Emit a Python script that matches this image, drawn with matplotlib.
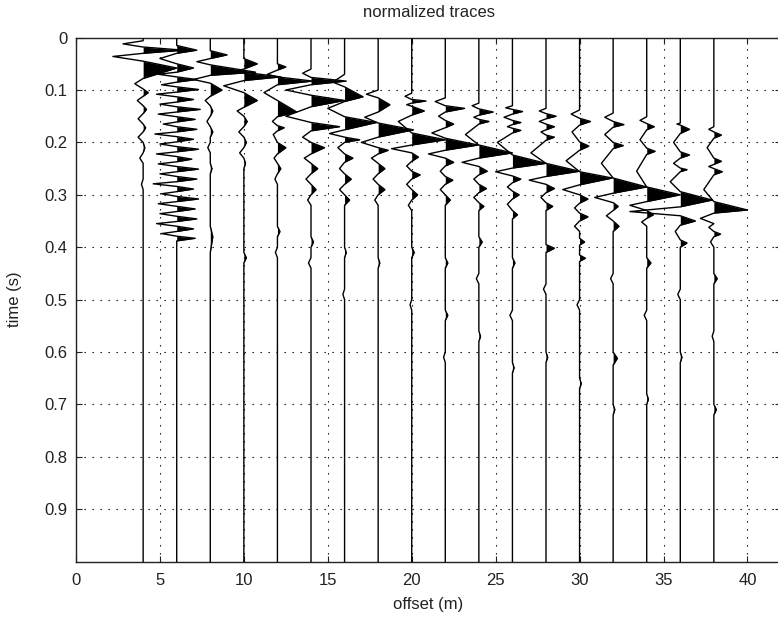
import numpy as np
import matplotlib
matplotlib.use("Agg")
import matplotlib.pyplot as plt

plt.rcParams['font.family'] = ['Liberation Sans', 'DejaVu Sans']

# trace positions (offset in m)
offsets = [4, 6, 8, 10, 12, 14, 16, 18, 20, 22, 24, 26, 28, 30, 32, 34, 36, 38]

# each trace: list of lobes (t_start, t_peak, t_end, amplitude in offset units)
tr04 = [(0.006, 0.012, 0.018, -1.2), (0.018, 0.024, 0.030, 2.4), (0.030, 0.036, 0.045, -1.8),
        (0.045, 0.058, 0.078, 2.0), (0.078, 0.088, 0.098, -0.5), (0.098, 0.105, 0.112, 0.3),
        (0.112, 0.120, 0.130, -0.35), (0.130, 0.137, 0.145, 0.2), (0.145, 0.155, 0.165, -0.3),
        (0.165, 0.172, 0.180, 0.15), (0.180, 0.190, 0.200, -0.3), (0.200, 0.210, 0.220, 0.1),
        (0.220, 0.230, 0.240, -0.2), (0.270, 0.280, 0.290, -0.1)]

tr06 = [(0.015, 0.024, 0.030, 1.2), (0.030, 0.040, 0.050, -1.0), (0.050, 0.058, 0.066, 1.0),
        (0.066, 0.070, 0.075, -1.1), (0.075, 0.080, 0.085, 1.2), (0.085, 0.090, 0.094, -0.9),
        (0.094, 0.099, 0.104, 1.3), (0.104, 0.108, 0.113, -1.2), (0.113, 0.118, 0.123, 1.0),
        (0.123, 0.127, 0.132, -1.0), (0.132, 0.137, 0.142, 1.4), (0.142, 0.146, 0.151, -1.1),
        (0.151, 0.156, 0.161, 1.1), (0.161, 0.165, 0.170, -0.8), (0.170, 0.175, 0.180, 1.2),
        (0.180, 0.184, 0.189, -1.3), (0.189, 0.194, 0.199, 1.0), (0.199, 0.203, 0.208, -1.0),
        (0.208, 0.213, 0.218, 1.3), (0.218, 0.222, 0.227, -1.2), (0.227, 0.232, 0.237, 0.9),
        (0.237, 0.241, 0.246, -1.1), (0.246, 0.251, 0.256, 1.3), (0.256, 0.260, 0.265, -1.0),
        (0.265, 0.270, 0.275, 1.2), (0.275, 0.279, 0.284, -1.4), (0.284, 0.289, 0.294, 1.0),
        (0.294, 0.298, 0.303, -0.9), (0.303, 0.308, 0.313, 1.3), (0.313, 0.317, 0.322, -1.1),
        (0.322, 0.327, 0.332, 1.1), (0.332, 0.336, 0.341, -1.0), (0.341, 0.346, 0.351, 1.2),
        (0.351, 0.355, 0.360, -1.2), (0.360, 0.365, 0.370, 1.0), (0.370, 0.374, 0.379, -0.9),
        (0.379, 0.383, 0.388, 1.1)]

tr08 = [(0.025, 0.033, 0.040, 1.0), (0.040, 0.046, 0.052, -0.8), (0.052, 0.066, 0.072, 2.7),
        (0.072, 0.080, 0.087, -1.0), (0.087, 0.100, 0.112, 0.7), (0.112, 0.120, 0.130, -0.3),
        (0.130, 0.140, 0.150, 0.15), (0.150, 0.160, 0.170, -0.2), (0.170, 0.180, 0.190, 0.15),
        (0.200, 0.210, 0.220, -0.15), (0.240, 0.250, 0.260, 0.1), (0.360, 0.380, 0.410, 0.15)]

tr10 = [(0.040, 0.050, 0.060, 0.8), (0.060, 0.063, 0.066, -0.3), (0.066, 0.075, 0.082, 2.2),
        (0.082, 0.092, 0.105, -1.2), (0.105, 0.120, 0.133, 0.8), (0.133, 0.140, 0.150, -0.4),
        (0.150, 0.160, 0.170, 0.2), (0.170, 0.180, 0.190, -0.3), (0.190, 0.200, 0.210, 0.15),
        (0.210, 0.220, 0.230, -0.25), (0.230, 0.240, 0.250, 0.1), (0.410, 0.420, 0.430, 0.15)]

tr12 = [(0.050, 0.056, 0.062, 0.5), (0.062, 0.070, 0.075, -0.6), (0.075, 0.083, 0.090, 2.1),
        (0.090, 0.105, 0.120, -0.8), (0.120, 0.142, 0.151, 1.15), (0.151, 0.160, 0.168, -0.3),
        (0.168, 0.172, 0.178, 0.4), (0.178, 0.185, 0.200, -0.25), (0.200, 0.210, 0.222, 0.5),
        (0.222, 0.230, 0.240, -0.2), (0.240, 0.250, 0.260, 0.2), (0.260, 0.270, 0.280, -0.15),
        (0.360, 0.370, 0.380, 0.15), (0.400, 0.410, 0.420, -0.12)]

tr14 = [(0.060, 0.068, 0.076, -0.5), (0.076, 0.083, 0.090, 2.1), (0.090, 0.100, 0.110, -1.5),
        (0.110, 0.120, 0.132, 2.0), (0.132, 0.150, 0.162, -1.5), (0.162, 0.170, 0.178, 1.7),
        (0.178, 0.190, 0.200, -0.5), (0.200, 0.210, 0.222, 0.8), (0.222, 0.230, 0.240, -0.4),
        (0.240, 0.250, 0.260, 0.4), (0.260, 0.270, 0.280, -0.3), (0.280, 0.290, 0.300, 0.3),
        (0.300, 0.310, 0.320, -0.2), (0.380, 0.390, 0.400, 0.15), (0.420, 0.430, 0.440, -0.15)]

tr16 = [(0.070, 0.085, 0.094, -0.7), (0.094, 0.113, 0.122, 1.1), (0.122, 0.135, 0.151, -1.0),
        (0.151, 0.162, 0.176, 1.9), (0.176, 0.183, 0.190, -0.9), (0.190, 0.195, 0.200, 0.9),
        (0.200, 0.210, 0.222, -0.4), (0.222, 0.230, 0.238, 0.5), (0.238, 0.250, 0.260, -0.3),
        (0.260, 0.270, 0.280, 0.4), (0.280, 0.290, 0.300, -0.3), (0.300, 0.310, 0.320, 0.3),
        (0.400, 0.410, 0.420, 0.1), (0.480, 0.490, 0.500, -0.1)]

tr18 = [(0.100, 0.108, 0.115, -0.7), (0.115, 0.128, 0.142, 0.7), (0.142, 0.152, 0.163, -0.8),
        (0.163, 0.176, 0.190, 2.1), (0.190, 0.200, 0.210, -1.0), (0.210, 0.215, 0.222, 0.6),
        (0.222, 0.230, 0.240, -0.4), (0.240, 0.250, 0.260, 0.4), (0.260, 0.270, 0.280, -0.3),
        (0.280, 0.290, 0.300, 0.4), (0.300, 0.310, 0.320, -0.2), (0.420, 0.430, 0.440, 0.1)]

tr20 = [(0.106, 0.112, 0.118, -0.4), (0.118, 0.121, 0.125, 0.85), (0.125, 0.128, 0.131, -0.3),
        (0.131, 0.140, 0.148, 0.75), (0.148, 0.160, 0.182, -0.8), (0.182, 0.195, 0.205, 2.0),
        (0.205, 0.212, 0.220, -1.2), (0.220, 0.228, 0.236, 0.4), (0.236, 0.245, 0.255, -0.3),
        (0.255, 0.262, 0.270, 0.5), (0.270, 0.280, 0.290, -0.3), (0.290, 0.300, 0.310, 0.35),
        (0.310, 0.320, 0.330, -0.2), (0.400, 0.410, 0.420, 0.15), (0.500, 0.510, 0.520, -0.1)]

tr22 = [(0.115, 0.122, 0.130, -0.6), (0.130, 0.135, 0.142, 1.15), (0.142, 0.150, 0.158, -0.4),
        (0.158, 0.165, 0.172, 0.5), (0.172, 0.182, 0.192, -0.8), (0.192, 0.205, 0.215, 1.95),
        (0.215, 0.222, 0.230, -1.0), (0.230, 0.238, 0.245, 0.5), (0.245, 0.255, 0.265, -0.3),
        (0.265, 0.272, 0.280, 0.45), (0.280, 0.290, 0.300, -0.3), (0.300, 0.310, 0.320, 0.3),
        (0.420, 0.430, 0.440, 0.15), (0.520, 0.530, 0.540, 0.15), (0.600, 0.610, 0.620, -0.1)]

tr24 = [(0.125, 0.130, 0.136, -0.4), (0.136, 0.142, 0.148, 0.85), (0.148, 0.152, 0.156, -0.3),
        (0.156, 0.160, 0.165, 0.6), (0.165, 0.185, 0.205, -0.8), (0.205, 0.220, 0.230, 2.0),
        (0.230, 0.238, 0.246, -1.0), (0.246, 0.255, 0.262, 0.5), (0.262, 0.270, 0.280, -0.3),
        (0.280, 0.288, 0.296, 0.45), (0.296, 0.305, 0.315, -0.3), (0.315, 0.322, 0.330, 0.3),
        (0.380, 0.390, 0.400, 0.2), (0.450, 0.460, 0.470, -0.15), (0.560, 0.570, 0.580, 0.1)]

tr26 = [(0.130, 0.134, 0.137, -0.4), (0.137, 0.141, 0.146, 0.6), (0.146, 0.152, 0.158, -0.5),
        (0.158, 0.162, 0.166, 0.5), (0.166, 0.170, 0.173, -0.3), (0.173, 0.177, 0.182, 0.5),
        (0.182, 0.200, 0.224, -0.9), (0.224, 0.240, 0.249, 2.0), (0.249, 0.256, 0.264, -1.0),
        (0.264, 0.270, 0.277, 0.5), (0.277, 0.285, 0.293, -0.3), (0.293, 0.300, 0.308, 0.4),
        (0.308, 0.318, 0.330, -0.3), (0.330, 0.338, 0.346, 0.3), (0.420, 0.430, 0.440, 0.15),
        (0.520, 0.530, 0.540, -0.15), (0.620, 0.630, 0.640, 0.1)]

tr28 = [(0.135, 0.140, 0.145, -0.4), (0.145, 0.150, 0.155, 0.6), (0.155, 0.160, 0.165, -0.4),
        (0.165, 0.170, 0.176, 0.5), (0.176, 0.180, 0.186, -0.3), (0.186, 0.190, 0.196, 0.5),
        (0.196, 0.220, 0.240, -0.9), (0.240, 0.255, 0.265, 2.0), (0.265, 0.272, 0.280, -1.0),
        (0.280, 0.288, 0.296, 0.5), (0.296, 0.305, 0.315, -0.3), (0.315, 0.322, 0.330, 0.4),
        (0.395, 0.402, 0.410, 0.5), (0.470, 0.480, 0.490, -0.15), (0.600, 0.610, 0.620, 0.1)]

tr30 = [(0.138, 0.146, 0.154, -0.5), (0.154, 0.160, 0.167, 0.65), (0.167, 0.180, 0.199, -0.45),
        (0.199, 0.207, 0.215, 0.55), (0.215, 0.235, 0.256, -0.8), (0.256, 0.268, 0.281, 1.95),
        (0.281, 0.290, 0.300, -1.0), (0.300, 0.308, 0.316, 0.5), (0.316, 0.325, 0.335, -0.3),
        (0.335, 0.342, 0.350, 0.5), (0.350, 0.360, 0.370, -0.3), (0.383, 0.390, 0.396, 0.3),
        (0.415, 0.421, 0.427, 0.35), (0.500, 0.510, 0.520, -0.15), (0.650, 0.660, 0.670, 0.1)]

tr32 = [(0.144, 0.152, 0.160, -0.5), (0.160, 0.166, 0.171, 0.64), (0.171, 0.185, 0.200, -0.5),
        (0.200, 0.206, 0.212, 0.6), (0.212, 0.240, 0.268, -0.7), (0.268, 0.285, 0.297, 2.0),
        (0.297, 0.305, 0.315, -1.1), (0.315, 0.322, 0.330, 0.3), (0.330, 0.340, 0.350, -0.4),
        (0.350, 0.360, 0.370, 0.35), (0.450, 0.460, 0.470, -0.15), (0.600, 0.612, 0.625, 0.25),
        (0.700, 0.710, 0.720, 0.1)]

tr34 = [(0.151, 0.158, 0.164, -0.4), (0.164, 0.170, 0.176, 0.45), (0.176, 0.195, 0.211, -0.4),
        (0.211, 0.217, 0.223, 0.5), (0.223, 0.255, 0.285, -0.6), (0.285, 0.300, 0.313, 2.0),
        (0.313, 0.320, 0.330, -1.0), (0.330, 0.338, 0.345, 0.4), (0.345, 0.352, 0.360, -0.3),
        (0.420, 0.430, 0.440, 0.25), (0.520, 0.530, 0.540, -0.15), (0.680, 0.690, 0.700, 0.1)]

tr36 = [(0.163, 0.165, 0.167, -0.2), (0.167, 0.175, 0.183, 0.55), (0.183, 0.200, 0.218, -0.4),
        (0.218, 0.224, 0.230, 0.55), (0.230, 0.240, 0.249, -0.4), (0.249, 0.252, 0.256, 0.4),
        (0.256, 0.275, 0.294, -0.6), (0.294, 0.310, 0.323, 1.9), (0.323, 0.332, 0.340, -3.0),
        (0.340, 0.350, 0.358, 0.9), (0.358, 0.370, 0.386, -0.3), (0.386, 0.392, 0.400, 0.4),
        (0.480, 0.490, 0.500, -0.15), (0.600, 0.610, 0.620, 0.1)]

tr38 = [(0.170, 0.175, 0.180, -0.3), (0.180, 0.186, 0.192, 0.45), (0.192, 0.210, 0.230, -0.4),
        (0.230, 0.236, 0.242, 0.45), (0.242, 0.246, 0.250, -0.3), (0.250, 0.256, 0.262, 0.5),
        (0.262, 0.290, 0.313, -0.6), (0.313, 0.329, 0.335, 2.0), (0.335, 0.345, 0.355, -0.8),
        (0.355, 0.362, 0.370, -0.3), (0.370, 0.375, 0.380, 0.4), (0.380, 0.390, 0.400, -0.2),
        (0.450, 0.460, 0.470, 0.2), (0.560, 0.570, 0.580, -0.1), (0.700, 0.710, 0.720, 0.15)]

traces = [tr04, tr06, tr08, tr10, tr12, tr14, tr16, tr18, tr20,
          tr22, tr24, tr26, tr28, tr30, tr32, tr34, tr36, tr38]

x_ticks = [0, 5, 10, 15, 20, 25, 30, 35, 40]
y_ticks = [0, 0.1, 0.2, 0.3, 0.4, 0.5, 0.6, 0.7, 0.8, 0.9]
y_ticklabels = ['0', '0.1', '0.2', '0.3', '0.4', '0.5', '0.6', '0.7', '0.8', '0.9']

W, H = 778, 617
fig = plt.figure(figsize=(W / 100, H / 100), dpi=100)
fig.patch.set_facecolor('white')
ax = fig.add_axes([76 / W, (H - 561.6) / H, 705 / W, 524 / H])

for x0, lobes in zip(offsets, traces):
    t = [0.0]
    a = [0.0]
    for (t0, tp, t1, amp) in lobes:
        t += [t0, tp, t1]
        a += [0.0, amp, 0.0]
    t.append(1.0)
    a.append(0.0)
    t = np.array(t)
    a = np.array(a)
    ax.fill_betweenx(t, x0, x0 + np.maximum(a, 0), color='black', lw=0, zorder=3)
    ax.plot(x0 + a, t, color='black', lw=1.0, zorder=4)

ax.set_xlim(0, 42)
ax.set_ylim(1.0, 0.0)
ax.set_xticks(x_ticks)
ax.set_yticks(y_ticks)
ax.set_yticklabels(y_ticklabels)
ax.grid(True, color='black', linestyle=(0, (1.2, 6)), lw=0.8, zorder=1)
ax.tick_params(direction='in', length=4, width=0.8, top=True, right=True,
               labelsize=12, colors='#222222')
ax.tick_params(axis='x', pad=8)
ax.tick_params(axis='y', pad=6)
for s in ax.spines.values():
    s.set_linewidth(1.0)
    s.set_color('#222222')

ax.set_title('normalized traces', fontsize=12, pad=15, color='#222222')
ax.set_xlabel('offset (m)', fontsize=12, labelpad=7, color='#222222')
ax.set_ylabel('time (s)', fontsize=12, labelpad=16, color='#222222')

fig.savefig('out.png', dpi=100)
